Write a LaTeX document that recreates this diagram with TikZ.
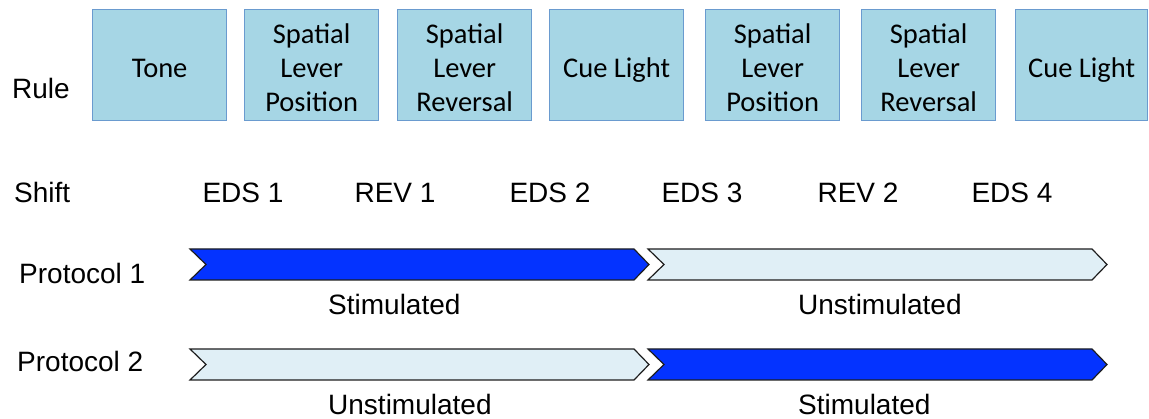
\documentclass[tikz,border=0pt]{standalone}
\usepackage{fontspec}
\setmainfont{Liberation Sans}
\newfontfamily\boxfont{Carlito}
\definecolor{rulefill}{HTML}{A6D6E5}
\definecolor{ruleedge}{HTML}{6A9BCF}
\definecolor{stimblue}{HTML}{0433FF}
\definecolor{unstimfill}{HTML}{E0EFF6}
\definecolor{chevedge}{HTML}{1E1E1E}
\begin{document}
\begin{tikzpicture}[x=1pt,y=-1pt,
  rulebox/.style={draw=ruleedge, line width=1.3pt, fill=rulefill,
    minimum width=134pt, minimum height=111pt, inner sep=0pt, anchor=north west},
  boxtext/.style={inner sep=0pt, align=center,
    font=\boxfont\fontsize{28.5}{34}\selectfont},
  onetext/.style={boxtext, anchor=base},
  threetext/.style={boxtext, anchor=center, yshift=-2.6pt},
  lbl/.style={inner sep=0pt, anchor=base west, font=\fontsize{28}{34}\selectfont},
  shiftlbl/.style={inner sep=0pt, anchor=base, font=\fontsize{28}{34}\selectfont},
  stim/.style={draw=chevedge, line width=1.2pt, fill=stimblue, line join=miter},
  unstim/.style={draw=chevedge, line width=1.2pt, fill=unstimfill, line join=miter}]
\useasboundingbox (0,0) rectangle (1149,419);

% row labels
\node[lbl] (rule) at (12,99) {Rule};
\node[lbl] (shift) at (14,203) {Shift};
\node[lbl] (p1) at (19,284) {Protocol 1};
\node[lbl] (p2) at (17,372) {Protocol 2};

% rule boxes
\node[rulebox] (r1) at (92,9) {};
\node[rulebox] (r2) at (244,9) {};
\node[rulebox] (r3) at (397,9) {};
\node[rulebox] (r4) at (549,9) {};
\node[rulebox] (r5) at (705,9) {};
\node[rulebox] (r6) at (861,9) {};
\node[rulebox, minimum width=132pt] (r7) at (1015,9) {};

% rule names, single-line ones sit on a common baseline
\node[onetext] (t1) at ([yshift=-12.5pt]r1.center) {Tone};
\node[threetext] (t2) at (r2.center) {Spatial\\Lever\\Position};
\node[threetext] (t3) at (r3.center) {Spatial\\Lever\\Reversal};
\node[onetext] (t4) at ([yshift=-12.5pt]r4.center) {Cue Light};
\node[threetext] (t5) at (r5.center) {Spatial\\Lever\\Position};
\node[threetext] (t6) at (r6.center) {Spatial\\Lever\\Reversal};
\node[onetext] (t7) at ([yshift=-12.5pt]r7.center) {Cue Light};

% shift labels
\node[shiftlbl] (s1) at (243,203) {EDS 1};
\node[shiftlbl] (s2) at (395,203) {REV 1};
\node[shiftlbl] (s3) at (550,203) {EDS 2};
\node[shiftlbl] (s4) at (702,203) {EDS 3};
\node[shiftlbl] (s5) at (858,203) {REV 2};
\node[shiftlbl] (s6) at (1012,203) {EDS 4};

% protocol chevrons: #1 style, #2 left x, #3 right tip x, #4 top y
\newcommand\chevbar[4]{%
  \path[#1] (#2,#4) -- (#3-15,#4) -- (#3,#4+15.5) -- (#3-15,#4+31)
    -- (#2,#4+31) -- (#2+16,#4+15.5) -- cycle;}
\chevbar{stim}{190}{649}{249}
\chevbar{unstim}{648}{1107}{249}
\chevbar{unstim}{190}{649}{349}
\chevbar{stim}{648}{1107}{349}

% stimulation labels
\node[lbl] (l1) at (328,315) {Stimulated};
\node[lbl] (l2) at (798,315) {Unstimulated};
\node[lbl] (l3) at (328,415) {Unstimulated};
\node[lbl] (l4) at (798,415) {Stimulated};
\end{tikzpicture}
\end{document}
